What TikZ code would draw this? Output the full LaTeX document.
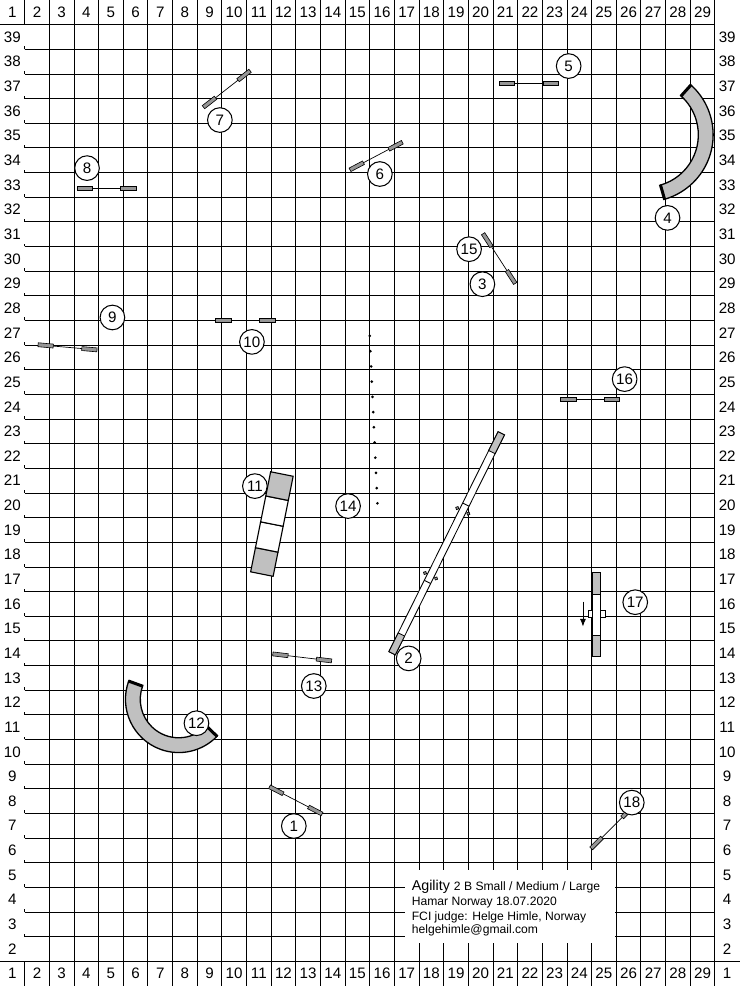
\documentclass[tikz,border=0pt]{standalone}
\usepackage{fontspec}
\setmainfont{Liberation Sans}
\usetikzlibrary{arrows.meta}
\definecolor{tunnelgray}{RGB}{192,192,192}
\definecolor{winggray}{RGB}{150,150,150}
\tikzstyle{num} = [circle, 
draw=black, 
fill=white, 
line width=1.2pt, 
minimum size=1cm, 
inner sep=0pt, 
font=\fontsize{17.5}{17.5}\selectfont]
\tikzstyle{lbl} = [inner sep=0pt, font=\fontsize{17.5}{17.5}\selectfont]
\tikzstyle{gridline} = [line width=1pt]
\tikzstyle{wing} = [draw=black, fill=winggray, line width=0.7pt]
\tikzstyle{tunnel} = [draw=black, fill=tunnelgray, line width=1.5pt]
\tikzstyle{contact} = [draw=black, fill=tunnelgray, line width=1.3pt]
\tikzstyle{plank} = [draw=black, fill=white, line width=1.3pt]
\tikzstyle{info} = [anchor=base west, inner sep=0pt, font=\fontsize{14}{14}\selectfont]
\tikzstyle{arrow} = [line width=1pt, -{Latex[length=9pt,width=7pt]}]

\newcommand{\hurdle}[2]{%
  \begin{scope}[shift={#1}, rotate=#2]
    \draw[line width=0.8pt] (-1.2,0) -- (1.2,0);
    \draw[wing] (-1.2,-0.08) rectangle (-0.58,0.08);
    \draw[wing] (0.58,-0.08) rectangle (1.2,0.08);
  \end{scope}}

\begin{document}
\begin{tikzpicture}
\useasboundingbox (0,0) rectangle (30,40);

% grid
\foreach \x in {2,...,29} \draw[gridline] (\x,0) -- (\x,40);
\draw[gridline] (1,0) -- (1,1);
\draw[gridline] (1,39) -- (1,40);
\foreach \y in {2,...,38} \draw[gridline] (1,\y) -- (29,\y) (1,\y) -- (1,\y+0.12);
\draw[gridline] (0,1) -- (30,1);
\draw[gridline] (0,39) -- (29,39);
\draw[gridline] (0,0) -- (30,0);

% labels
\foreach \i in {1,...,29} {
  \node[lbl] (t\i) at (\i-0.5,39.5) {\i};
  \node[lbl] (b\i) at (\i-0.5,0.5) {\i};
}
\foreach \i in {2,...,39} \node[lbl] (l\i) at (0.5,\i-0.5) {\i};
\foreach \i in {1,...,39} \node[lbl] (r\i) at (29.5,\i-0.5) {\i};

% info
\fill[white] (16.42,1.74) rectangle (24.93,4.71);
\node[info, font=\fontsize{16.5}{16.5}\selectfont] (title) at (16.7,3.89) {Agility {\fontsize{14}{14}\selectfont 2 B Small / Medium / Large}};
\node[info] (place) at (16.7,3.25) {Hamar Norway 18.07.2020};
\node[info] (judge) at (16.7,2.65) {FCI judge: Helge Himle, Norway};
\node[info] (mail) at (16.7,2.11) {helgehimle@gmail.com};

% jumps
\hurdle{(12.0,7.53)}{-27.4}
\hurdle{(20.25,29.51)}{-57.1}
\hurdle{(21.45,36.63)}{0}
\hurdle{(15.26,33.67)}{27.8}
\hurdle{(9.20,36.39)}{38}
\hurdle{(4.32,32.37)}{0}
\hurdle{(2.74,25.91)}{-5}
\hurdle{(9.95,27.02)}{0}
\hurdle{(12.26,13.33)}{-6.8}
\hurdle{(23.94,23.81)}{0}
\hurdle{(24.83,6.43)}{45}

% tunnels
\coordinate (tun4) at (26.21,34.53);
\filldraw[tunnel] ([shift={(48:2.72)}]tun4) arc[start angle=48, end angle=-74, radius=2.72]
  -- ([shift={(-74:2.12)}]tun4) arc[start angle=-74, end angle=48, radius=2.12] -- cycle;
\draw[line width=3.5pt] ([shift={(48:2.74)}]tun4) -- ([shift={(48:2.1)}]tun4);
\draw[line width=3.5pt] ([shift={(-74:2.74)}]tun4) -- ([shift={(-74:2.1)}]tun4);

\coordinate (tun12) at (7.25,11.63);
\filldraw[tunnel] ([shift={(160:2.16)}]tun12) arc[start angle=160, end angle=316, radius=2.16]
  -- ([shift={(316:1.56)}]tun12) arc[start angle=316, end angle=160, radius=1.56] -- cycle;
\draw[line width=3.5pt] ([shift={(160:2.18)}]tun12) -- ([shift={(160:1.54)}]tun12);
\draw[line width=3.5pt] ([shift={(316:2.18)}]tun12) -- ([shift={(316:1.54)}]tun12);

% a-frame
\begin{scope}[shift={(11.03,18.74)}, rotate=78.7]
  \draw[contact] (-2.07,-0.465) rectangle (-1.07,0.465);
  \draw[plank] (-1.07,-0.465) rectangle (0,0.465);
  \draw[plank] (0,-0.465) rectangle (1.07,0.465);
  \draw[contact] (1.07,-0.465) rectangle (2.07,0.465);
\end{scope}

% dog walk
\begin{scope}[shift={(18.12,17.96)}, rotate=63.6]
  \draw[plank, line width=1pt] (-4.98,-0.145) rectangle (4.98,0.145);
  \draw[contact, line width=1pt] (-4.98,-0.145) rectangle (-4.13,0.145);
  \draw[contact, line width=1pt] (4.13,-0.145) rectangle (4.98,0.145);
  \draw[line width=1pt] (-1.75,-0.145) -- (-1.75,0.145) (1.75,-0.145) -- (1.75,0.145);
  \foreach \u in {-1.47,1.47}
    \foreach \v in {-0.25,0.25}
      \draw[fill=winggray, line width=0.8pt] (\u,\v) circle (0.07);
\end{scope}

% see-saw
\draw[contact] (24.05,15.89) rectangle (24.37,16.78);
\draw[plank] (24.05,14.21) rectangle (24.37,15.89);
\draw[contact] (24.05,13.36) rectangle (24.37,14.21);
\draw[plank, line width=1pt] (23.88,14.94) rectangle (24.05,15.23);
\draw[plank, line width=1pt] (24.37,14.94) rectangle (24.56,15.23);
\coordinate (sawtop) at (23.65,15.59);
\coordinate (sawbot) at (23.65,14.58);
\draw[arrow] (sawtop) -- (sawbot);

% weave
\foreach \i in {0,...,11}
  \fill ({15.0+0.31*\i/11},{26.37-6.79*\i/11}) circle (0.06);

% numbers
\node[num] (n1) at (11.92,6.49) {1};
\node[num] (n2) at (16.58,13.29) {2};
\node[num] (n3) at (19.57,28.47) {3};
\node[num] (n4) at (27.08,31.16) {4};
\node[num] (n5) at (23.07,37.32) {5};
\node[num] (n6) at (15.41,32.94) {6};
\node[num] (n7) at (8.92,35.13) {7};
\node[num] (n8) at (3.53,33.18) {8};
\node[num] (n9) at (4.56,27.12) {9};
\node[num] (n10) at (10.22,26.13) {10};
\node[num] (n11) at (10.34,20.28) {11};
\node[num] (n12) at (7.97,10.66) {12};
\node[num] (n13) at (12.73,12.17) {13};
\node[num] (n14) at (14.12,19.47) {14};
\node[num] (n15) at (19.03,29.89) {15};
\node[num] (n16) at (25.34,24.62) {16};
\node[num] (n17) at (25.77,15.57) {17};
\node[num] (n18) at (25.63,7.44) {18};

\end{tikzpicture}
\end{document}
